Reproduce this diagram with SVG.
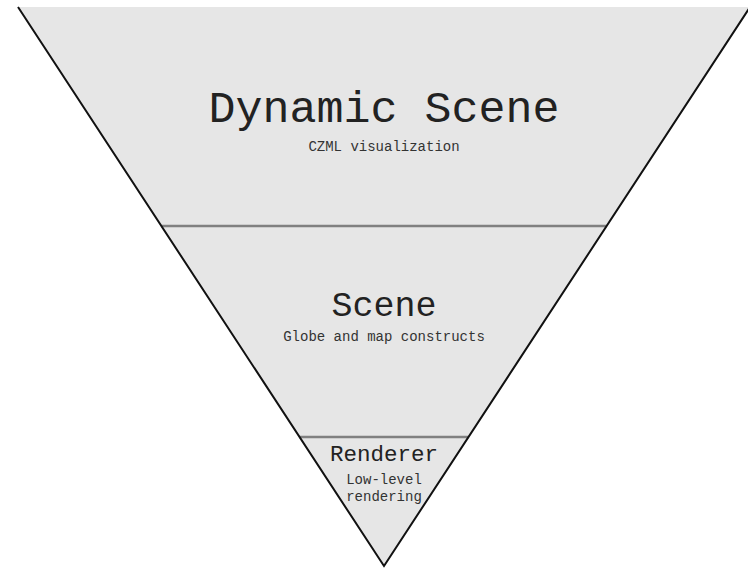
<svg xmlns="http://www.w3.org/2000/svg" width="748" height="569" viewBox="0 0 748 569">
<style>
.fill{fill:#e6e6e6;stroke:none}
.side{stroke:#111;stroke-width:2;fill:none}
.div{stroke:#808080;stroke-width:2.5;fill:none}
text{font-family:"Liberation Mono","Courier New",monospace;fill:#222;text-anchor:middle}
.sub{font-size:14px;fill:#333}
</style>
<rect width="748" height="569" fill="#ffffff"/>
<g id="dynamic-scene">
<polygon class="fill" points="18,7 750,7 606.6,226 161.4,226"/>
<text x="384" y="122" font-size="45">Dynamic Scene</text>
<text class="sub" x="384" y="151">CZML visualization</text>
</g>
<g id="scene">
<polygon class="fill" points="161.4,226 606.6,226 468.5,437 299.5,437"/>
<text x="384" y="316" font-size="35">Scene</text>
<text class="sub" x="384" y="341">Globe and map constructs</text>
</g>
<g id="renderer">
<polygon class="fill" points="299.5,437 468.5,437 384,566"/>
<text x="384" y="461" font-size="22.5">Renderer</text>
<text class="sub" x="384" y="484">Low-level</text>
<text class="sub" x="384" y="501">rendering</text>
</g>
<g id="connectors">
<line class="div" x1="161.4" y1="226" x2="606.6" y2="226"/>
<line class="div" x1="299.5" y1="437" x2="468.5" y2="437"/>
<polyline class="side" points="18,7 384,566 750,7"/>
</g>
</svg>
